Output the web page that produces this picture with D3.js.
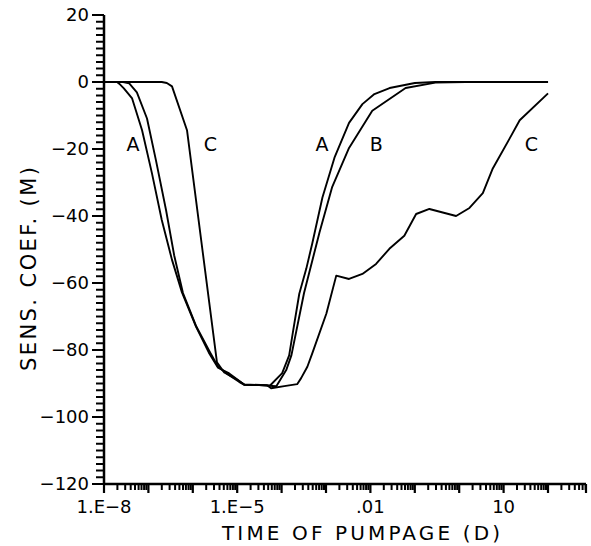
<!DOCTYPE html>
<html><head><meta charset="utf-8">
<script src="https://cdn.jsdelivr.net/npm/d3@7"></script>
<style>
html,body{margin:0;padding:0;background:#fff;}
svg{display:block;}
text{font-family:"DejaVu Sans",sans-serif;fill:#000;}
</style>
</head><body>
<svg id="chart" width="591" height="546"></svg>
<script>
// ---- data (time in days, sensitivity coefficient in m) ----
const timeA = [1e-8,1.96e-8,2.2e-8,2.8e-8,4.3e-8,7.2e-8,1.2e-7,2.0e-7,3.4e-7,5.7e-7,1.18e-6,2.3e-6,3.7e-6,6.6e-6,1.1e-5,1.45e-5,3.1e-5,5.5e-5,1.03e-4,1.48e-4,1.82e-4,2.5e-4,3.6e-4,4.9e-4,8.3e-4,1.55e-3,3.3e-3,6.6e-3,0.0123,0.027,0.10,0.29,100];
const sensA = [0,0,-0.5,-1.9,-4.9,-14.4,-27.2,-41.2,-53.1,-62.8,-73,-80.8,-85.3,-87,-89.2,-90.4,-90.5,-90.6,-86.9,-81.6,-74.2,-63.2,-55.7,-48.2,-34.5,-22.6,-12.2,-6.6,-3.6,-1.8,-0.3,0,0];

const timeB = [1e-8,2.7e-8,3.7e-8,5.5e-8,9.3e-8,1.48e-7,2.5e-7,3.8e-7,6.0e-7,1.2e-6,2.4e-6,3.7e-6,6.6e-6,1.1e-5,1.45e-5,3.1e-5,7.6e-5,1.27e-4,1.66e-4,3.2e-4,7.1e-4,1.38e-3,3.3e-3,0.011,0.062,0.29,1.4,100];
const sensB = [0,0,-0.4,-3.1,-10.9,-23.4,-38.3,-51.7,-63,-73,-80.5,-85,-87.5,-89.5,-90.4,-90.5,-90.8,-86,-81.6,-63,-45,-31.3,-19.7,-8.6,-1.8,-0.2,0,0];

const timeC = [1e-8,2.0e-7,2.6e-7,3.4e-7,7.4e-7,3.5e-6,5.1e-6,8.5e-6,1.45e-5,4.7e-5,5.8e-5,1.15e-4,2.24e-4,2.75e-4,3.8e-4,4.9e-4,1.02e-3,1.7e-3,3.3e-3,6.6e-3,0.0134,0.0267,0.058,0.107,0.213,0.85,1.7,3.4,5.7,13.6,23,100];
const sensC = [0,0,-0.3,-1.3,-14.4,-83.7,-86.7,-88.3,-90.3,-90.5,-91.4,-90.8,-90.2,-88.4,-85,-81,-69.1,-57.8,-58.8,-57.3,-54.3,-49.8,-45.9,-39.4,-37.9,-40,-37.6,-33.2,-25.8,-16.9,-11.4,-3.4];

const xTickValues = [1e-8,1e-5,0.01,10];
const xTickLabels = ["1.E\u22128","1.E\u22125",".01","10"];
const yTickValues = [20,0,-20,-40,-60,-80,-100,-120];
const curveLabelText = ["A","C","A","B","C"];
const curveLabelTime = [4.5e-8,2.5e-6,8.1e-4,0.0135,42];
const curveLabelSens = [-20,-20,-20,-20,-20];

const xTitle = "TIME OF PUMPAGE (D)";
const yTitle = "SENS. COEF. (M)";

// ---- layout ----
const padL = 104, padR = 586, padT = 15, padB = 484;
const svg = d3.select("#chart");
const x = d3.scaleLog().domain([1e-8, Math.pow(10, 2.855)]).range([padL, padR]);
const y = d3.scaleLinear().domain([-120, 20]).range([padB, padT]);

const xMinor = [];
for (let e = -8; e <= 2; e++) for (let m = 2; m <= 9; m++) { const v = m * Math.pow(10, e); if (v < x.domain()[1]) xMinor.push(v); }
const xMajor = d3.range(-8, 3).map(e => Math.pow(10, e)).concat([x.domain()[1]]);
const yMinor = d3.range(-120, 21, 2);

// tick marks as single paths built from the scales
const xMinorPath = xMinor.map(v => `M${x(v).toFixed(1)},${padB}v6`).join("");
const xMajorPath = xMajor.map(v => `M${x(v).toFixed(1)},${padB}v9`).join("");
const yMinorPath = yMinor.map(v => `M${padL},${y(v).toFixed(1)}h-8`).join("");
const yMajorPath = yTickValues.map(v => `M${padL},${y(v).toFixed(1)}h-12`).join("");

svg.append("path").attr("d", xMinorPath).attr("stroke", "#000").attr("stroke-width", 2).attr("fill", "none");
svg.append("path").attr("d", xMajorPath).attr("stroke", "#000").attr("stroke-width", 2.2).attr("fill", "none");
svg.append("path").attr("d", yMinorPath).attr("stroke", "#000").attr("stroke-width", 2).attr("fill", "none");
svg.append("path").attr("d", yMajorPath).attr("stroke", "#000").attr("stroke-width", 2.2).attr("fill", "none");

// axis lines
svg.append("line").attr("x1", padL).attr("x2", padR).attr("y1", padB).attr("y2", padB)
  .attr("stroke", "#000").attr("stroke-width", 2.5);
svg.append("line").attr("x1", padL).attr("x2", padL).attr("y1", y(20)).attr("y2", padB)
  .attr("stroke", "#000").attr("stroke-width", 2.5);

// tick labels
svg.append("g").selectAll("text").data(xTickValues).join("text")
  .attr("x", d => x(d)).attr("y", padB + 29)
  .attr("text-anchor", "middle").attr("font-size", 18)
  .text((d, i) => xTickLabels[i]);
svg.append("g").selectAll("text").data(yTickValues).join("text")
  .attr("x", padL - 15).attr("y", d => y(d)).attr("dy", "0.36em")
  .attr("text-anchor", "end").attr("font-size", 18)
  .text(d => d < 0 ? "\u2212" + Math.abs(d) : String(d));

// titles
svg.append("text").attr("x", 361).attr("y", 540).attr("text-anchor", "middle")
  .attr("font-size", 20).attr("textLength", 278).attr("lengthAdjust", "spacing").text(xTitle);
svg.append("text").attr("transform", "translate(36,269) rotate(-90)").attr("text-anchor", "middle")
  .attr("font-size", 21).attr("textLength", 204).attr("lengthAdjust", "spacing").text(yTitle);

// curves
const series = [
  timeA.map((t, i) => ({t, v: sensA[i]})),
  timeB.map((t, i) => ({t, v: sensB[i]})),
  timeC.map((t, i) => ({t, v: sensC[i]}))
];
const lineGen = d3.line().x(d => x(d.t)).y(d => y(d.v));
svg.append("g").selectAll("path").data(series).join("path")
  .attr("d", lineGen).attr("fill", "none").attr("stroke", "#000")
  .attr("stroke-width", 1.9).attr("stroke-linejoin", "round");

// curve labels
svg.append("g").selectAll("text").data(curveLabelText).join("text")
  .attr("x", (d, i) => x(curveLabelTime[i])).attr("y", (d, i) => y(curveLabelSens[i]) + 2)
  .attr("text-anchor", "middle").attr("font-size", 19)
  .text(d => d);
</script>
</body></html>
